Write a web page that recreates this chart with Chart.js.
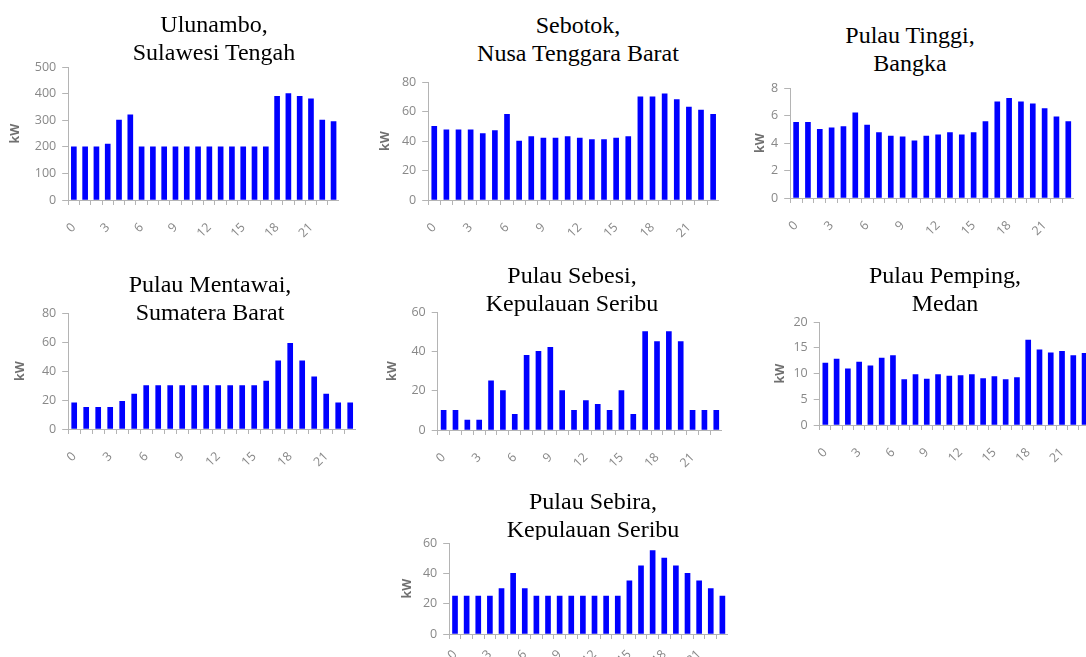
<!DOCTYPE html>
<html>
<head>
<meta charset="utf-8">
<script src="https://cdn.jsdelivr.net/npm/chart.js@4.4.1/dist/chart.umd.min.js"></script>
<style>
html, body { margin: 0; width: 1086px; height: 657px; overflow: hidden; background: #fff; }
.title {
    position: absolute;
    font-family: "Liberation Serif", "Times New Roman", serif;
    font-size: 24px;
    line-height: 28px;
    text-align: center;
    white-space: nowrap;
    color: #000;
    transform: translateX(-50%);
    overflow: hidden;
}
.box { position: absolute; }
</style>
</head>
<body>
<script>
// hours of the day (x categories) and the ones that get a label
const hours = [0, 1, 2, 3, 4, 5, 6, 7, 8, 9, 10, 11, 12, 13, 14, 15, 16, 17, 18, 19, 20, 21, 22, 23];
const hourLabels = [0, 3, 6, 9, 12, 15, 18, 21];

// load profiles in kW, one per site
const ulunambo = [200, 200, 200, 210, 300, 320, 200, 200, 200, 200, 200, 200, 200, 200, 200, 200, 200, 200, 390, 400, 390, 380, 300, 295];
const sebotok = [50, 47.5, 47.5, 47.5, 45, 47, 58, 40, 43, 42, 42, 43, 42, 41, 41, 42, 43, 70, 70, 72, 68, 63, 61, 58];
const pulauTinggi = [5.5, 5.5, 5.0, 5.1, 5.2, 6.2, 5.3, 4.75, 4.5, 4.45, 4.15, 4.5, 4.6, 4.75, 4.6, 4.75, 5.55, 7.0, 7.25, 7.0, 6.85, 6.5, 5.9, 5.55];
const mentawai = [18, 15, 15, 15, 19, 24, 30, 30, 30, 30, 30, 30, 30, 30, 30, 30, 33, 47, 59, 47, 36, 24, 18, 18];
const sebesi = [10, 10, 5, 5, 25, 20, 8, 38, 40, 42, 20, 10, 15, 13, 10, 20, 8, 50, 45, 50, 45, 10, 10, 10];
const pemping = [12, 12.8, 10.9, 12.2, 11.5, 13, 13.5, 8.8, 9.8, 8.9, 9.8, 9.5, 9.6, 9.8, 9, 9.4, 8.8, 9.2, 16.5, 14.6, 14, 14.3, 13.5, 13.9];
const sebira = [25, 25, 25, 25, 30, 40, 30, 25, 25, 25, 25, 25, 25, 25, 25, 35, 45, 55, 50, 45, 40, 35, 30, 25];

// titles and y scale maxima / steps
const titles = [
    ["Ulunambo,", "Sulawesi Tengah"],
    ["Sebotok,", "Nusa Tenggara Barat"],
    ["Pulau Tinggi,", "Bangka"],
    ["Pulau Mentawai,", "Sumatera Barat"],
    ["Pulau Sebesi,", "Kepulauan Seribu"],
    ["Pulau Pemping,", "Medan"],
    ["Pulau Sebira,", "Kepulauan Seribu"]
];
const yMax = [500, 80, 8, 80, 60, 20, 60];
const yStep = [100, 20, 2, 20, 20, 5, 20];
const series = [ulunambo, sebotok, pulauTinggi, mentawai, sebesi, pemping, sebira];

// where each panel sits on the page
const frames = [
    { kw: 15,  axisX: 68,    top: 67,  bottom: 200, right: 339,  tx: 214, ty: 10,    lpad: 15, clip: null },
    { kw: 385, axisX: 428,   top: 82,  bottom: 200, right: 719,  tx: 578, ty: 11,    lpad: 15, clip: null },
    { kw: 760, axisX: 790,   top: 88,  bottom: 198, right: 1074, tx: 910, ty: 20.5,  lpad: 15, clip: null },
    { kw: 20,  axisX: 68,    top: 313, bottom: 429, right: 356,  tx: 210, ty: 269.5, lpad: 15, clip: null },
    { kw: 392, axisX: 437.5, top: 312, bottom: 430, right: 722,  tx: 572, ty: 260.5, lpad: 15, clip: null },
    { kw: 780, axisX: 819.5, top: 322, bottom: 425, right: 1090, tx: 945, ty: 261,   lpad: 15, clip: null },
    { kw: 407, axisX: 449,   top: 543, bottom: 634, right: 728,  tx: 593, ty: 487,   lpad: 8,  clip: 52.5 }
];

const PAD_TOP = 10;
const X_AXIS_H = 45;
const axisGray = "#b4b4b4";
const labelGray = "#888888";

Chart.defaults.font.family = "'Open Sans', 'Noto Sans', sans-serif";
Chart.defaults.font.size = 12;

function makePanel(i) {
    const f = frames[i];
    const left = f.kw - 7.2;
    const canvasTop = f.top - PAD_TOP;
    const w = f.right - left;
    const h = (f.bottom - canvasTop) + X_AXIS_H;

    const box = document.createElement("div");
    box.className = "box";
    box.style.left = left + "px";
    box.style.top = canvasTop + "px";
    box.style.width = w + "px";
    box.style.height = h + "px";
    const canvas = document.createElement("canvas");
    box.appendChild(canvas);
    document.body.appendChild(box);

    new Chart(canvas, {
        type: "bar",
        data: {
            labels: hours,
            datasets: [{
                data: series[i],
                backgroundColor: "#0000ff",
                borderWidth: 0,
                barThickness: 5
            }]
        },
        options: {
            responsive: true,
            maintainAspectRatio: false,
            animation: false,
            layout: { padding: { top: PAD_TOP, right: 0, bottom: 0, left: 0 } },
            plugins: { legend: { display: false }, tooltip: { enabled: false } },
            scales: {
                x: {
                    offset: true,
                    grid: { display: true, offset: true, drawOnChartArea: false, drawTicks: true, tickLength: 5, color: axisGray },
                    border: { display: true, color: axisGray },
                    ticks: {
                        autoSkip: false,
                        minRotation: 45,
                        maxRotation: 45,
                        padding: f.lpad,
                        color: labelGray,
                        font: { size: 12.5 },
                        callback: (v, idx) => hourLabels.includes(hours[idx]) ? String(hours[idx]) : ""
                    },
                    afterFit: (s) => { s.height = X_AXIS_H; s.paddingLeft = 0; s.paddingRight = 0; }
                },
                y: {
                    min: 0,
                    max: yMax[i],
                    grid: { display: true, drawOnChartArea: false, drawTicks: true, tickLength: 6, color: axisGray },
                    border: { display: true, color: axisGray },
                    ticks: { stepSize: yStep[i], padding: 6, color: labelGray, font: { size: 12.5 } },
                    title: {
                        display: true,
                        text: "kW",
                        color: "#707070",
                        padding: 0,
                        font: { size: 12.5, weight: "bold" }
                    },
                    afterFit: (s) => { s.width = f.axisX - left; s.paddingTop = 0; s.paddingBottom = 0; }
                }
            }
        }
    });

    const t = document.createElement("div");
    t.className = "title";
    t.style.left = f.tx + "px";
    t.style.top = f.ty + "px";
    if (f.clip) t.style.height = f.clip + "px";
    t.innerHTML = titles[i][0] + "<br>" + titles[i][1];
    document.body.appendChild(t);
}

for (let i = 0; i < series.length; i++) {
    makePanel(i);
}
</script>
</body>
</html>
